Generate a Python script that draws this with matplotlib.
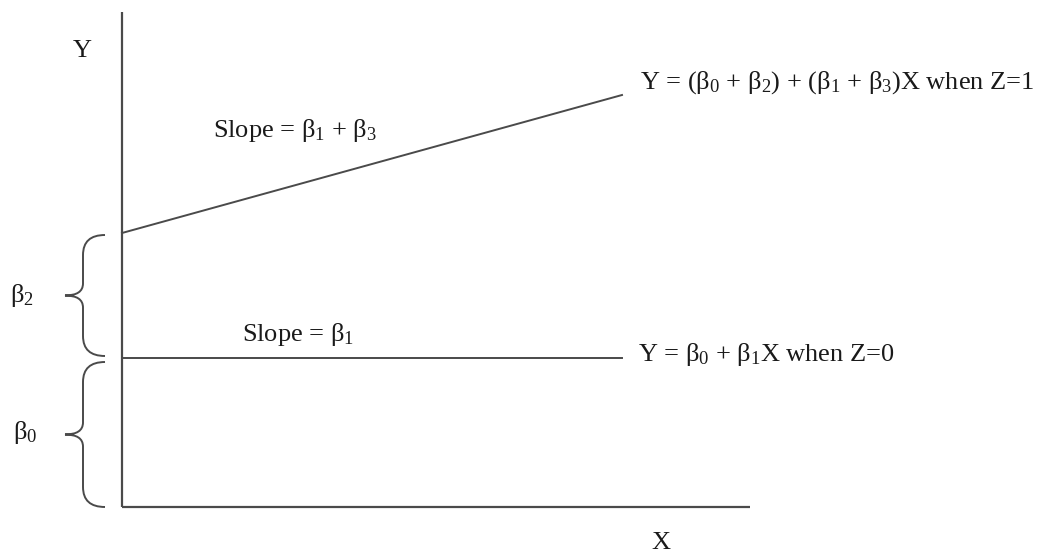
import numpy as np
import matplotlib
matplotlib.use("Agg")
from matplotlib import pyplot as plt
from matplotlib.path import Path
from matplotlib.patches import PathPatch

plt.rcParams['font.family'] = ['Liberation Serif', 'DejaVu Serif']
plt.rcParams['mathtext.fontset'] = 'custom'
plt.rcParams['mathtext.rm'] = 'Liberation Serif'
plt.rcParams['mathtext.it'] = 'Liberation Serif'
plt.rcParams['mathtext.default'] = 'regular'

# model coefficients (diagram units)
b0 = 1.49   # intercept when Z=0
b1 = 0.0    # slope when Z=0
b2 = 1.25   # intercept shift for Z=1
b3 = 0.276  # slope shift for Z=1
x_line_end = 5.0
x_axis_len = 6.28
y_axis_len = 4.95

line_color = '#4a4a4a'
text_color = '#1a1a1a'

fig = plt.figure(figsize=(10.41, 5.57), dpi=100)
ax = fig.add_axes([0, 0, 1, 1])
ax.set_xlim(-1.22, 9.19)
ax.set_ylim(-0.50, 5.07)
ax.axis('off')

# axes of the diagram
ax.plot([0, x_axis_len], [0, 0], color=line_color, lw=1.6, solid_capstyle='butt')
ax.plot([0, 0], [0, y_axis_len], color=line_color, lw=1.6, solid_capstyle='butt')

x = np.array([0, x_line_end])
y_z0 = b0 + b1 * x
y_z1 = (b0 + b2) + (b1 + b3) * x
ax.plot(x, y_z0, color=line_color, lw=1.4)
ax.plot(x, y_z1, color=line_color, lw=1.4)


def brace(y_lo, y_hi, x_end=-0.17, x_mid=-0.39, x_tip=-0.57, r=0.2, rt=0.12):
    ym = (y_lo + y_hi) / 2
    verts = [(x_end, y_hi), (x_mid, y_hi), (x_mid, y_hi - r),
             (x_mid, ym + rt), (x_mid, ym), (x_tip, ym),
             (x_mid, ym), (x_mid, ym - rt),
             (x_mid, y_lo + r), (x_mid, y_lo), (x_end, y_lo)]
    codes = [Path.MOVETO, Path.CURVE3, Path.CURVE3,
             Path.LINETO, Path.CURVE3, Path.CURVE3,
             Path.CURVE3, Path.CURVE3,
             Path.LINETO, Path.CURVE3, Path.CURVE3]
    ax.add_patch(PathPatch(Path(verts, codes), fill=False,
                           edgecolor=line_color, lw=1.4))


brace(0.0, b0 - 0.04)
brace(b0 + 0.02, b0 + b2 - 0.02)

fs = 19
ax.text(-1.0, b0 + b2 / 2, r'$\beta_2$', fontsize=fs, color=text_color,
        ha='center', va='center')
ax.text(-0.97, b0 / 2, r'$\beta_0$', fontsize=fs, color=text_color,
        ha='center', va='center')
ax.text(-0.40, 4.56, 'Y', fontsize=fs, color=text_color, ha='center', va='center')
ax.text(5.39, -0.36, 'X', fontsize=fs, color=text_color, ha='center', va='center')

ax.text(1.73, 3.77, r'Slope = $\beta_1$ + $\beta_3$', fontsize=fs,
        color=text_color, ha='center', va='center')
ax.text(1.76, 1.72, r'Slope = $\beta_1$', fontsize=fs,
        color=text_color, ha='center', va='center')
ax.text(5.18, 4.24, r'Y = ($\beta_0$ + $\beta_2$) + ($\beta_1$ + $\beta_3$)X when Z=1',
        fontsize=fs, color=text_color, ha='left', va='center')
ax.text(5.16, 1.52, r'Y = $\beta_0$ + $\beta_1$X when Z=0',
        fontsize=fs, color=text_color, ha='left', va='center')

fig.savefig('out.png', dpi=100)
